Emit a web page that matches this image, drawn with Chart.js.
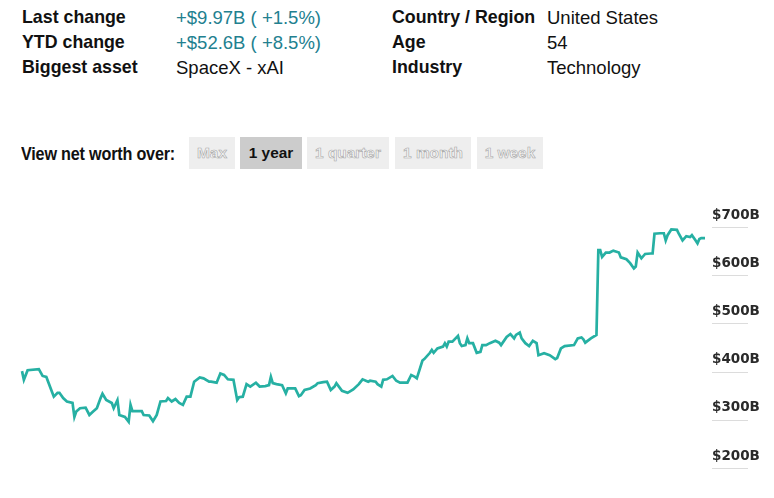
<!DOCTYPE html>
<html>
<head>
<meta charset="utf-8">
<script src="https://cdn.jsdelivr.net/npm/chart.js@4.4.1/dist/chart.umd.min.js"></script>
<style>
  body { margin: 0; width: 774px; height: 498px; background: #fff; position: relative; overflow: hidden;
         font-family: "Liberation Sans", Arial, sans-serif; color: #111; }
  .col { position: absolute; top: 5px; font-size: 18.5px; line-height: 25px; white-space: nowrap; }
  .lbl { font-weight: bold; font-size: 17.8px; }
  .up { color: #22808f; }
  .range { position: absolute; top: 137px; left: 0; height: 32px; width: 774px; }
  .range .title { position: absolute; left: 21px; top: 0; line-height: 32px; font-size: 16.2px; font-weight: bold;
                  transform: scaleY(1.15); letter-spacing: -0.2px; }
  .btn { position: absolute; top: 0; height: 32px; line-height: 32px; text-align: center; font-size: 15.4px;
         font-weight: bold; background: #eeeeee; color: #f6f6f6; -webkit-text-stroke: 0.6px #a8a8a8; }
  .btn.on { background: #cccccc; color: #111; -webkit-text-stroke: 0; }
  #wrap { position: absolute; left: 0; top: 190px; width: 774px; height: 308px; }
</style>
</head>
<body>
<div class="col lbl" style="left:22px">Last change<br>YTD change<br>Biggest asset</div>
<div class="col" style="left:176px"><span class="up">+$9.97B ( +1.5%)</span><br><span class="up">+$52.6B ( +8.5%)</span><br>SpaceX - xAI</div>
<div class="col lbl" style="left:392px">Country / Region<br>Age<br>Industry</div>
<div class="col" style="left:547px">United States<br>54<br>Technology</div>

<div class="range">
  <div class="title">View net worth over:</div>
  <div class="btn" style="left:189px;width:46px">Max</div>
  <div class="btn on" style="left:240px;width:62px">1 year</div>
  <div class="btn" style="left:307px;width:82px">1 quarter</div>
  <div class="btn" style="left:395px;width:76px">1 month</div>
  <div class="btn" style="left:477px;width:66px">1 week</div>
</div>

<div id="wrap"><canvas id="chart"></canvas></div>

<script>
// day of the year (0 = one year ago)
const days = [
  0, 1, 3, 9, 11, 13, 16, 17, 19, 20,
  22, 24, 27, 28, 29, 31, 34, 36, 38, 40,
  42, 43, 45, 48, 49, 51, 52, 55, 57, 58,
  59, 64, 65, 68, 70, 72, 74, 77, 78, 80,
  82, 84, 86, 88, 90, 92, 95, 97, 100, 101,
  104, 106, 108, 110, 113, 115, 116, 118, 120, 122,
  125, 127, 130, 132, 133, 134, 136, 139, 141, 142,
  146, 148, 149, 151, 154, 157, 158, 161, 163, 165,
  167, 168, 171, 174, 177, 180, 182, 185, 186, 189,
  190, 192, 193, 195, 198, 200, 202, 206, 208, 210,
  211, 214, 215, 218, 219, 220, 222, 225, 226, 227,
  228, 230, 233, 234, 235, 237, 238, 239, 241, 243,
  245, 246, 248, 250, 253, 255, 256, 259, 261, 263,
  264, 266, 267, 269, 271, 273, 275, 276, 279, 282,
  285, 286, 288, 290, 295, 297, 299, 300, 301, 304,
  307, 308, 309, 310, 312, 314, 316, 319, 320, 323,
  325, 327, 328, 329, 331, 333, 336, 337, 338, 341,
  343, 344, 345, 347, 350, 351, 353, 355, 357, 358,
  360, 361, 362, 363, 365
];

// net worth, billions of dollars
const worth = [
  401, 383, 403, 405, 391, 389, 358, 348, 356, 356,
  345, 338, 335, 306, 317, 324, 325, 310, 317, 324,
  345, 354, 341, 335, 324, 341, 310, 306, 296, 331,
  318, 318, 310, 309, 297, 310, 338, 339, 345, 338,
  343, 335, 331, 348, 348, 379, 388, 386, 379, 379,
  377, 396, 393, 384, 383, 341, 347, 348, 374, 369,
  377, 369, 370, 372, 389, 376, 374, 372, 355, 365,
  365, 349, 351, 362, 365, 372, 376, 378, 379, 362,
  369, 376, 360, 356, 363, 374, 384, 379, 381, 379,
  374, 369, 383, 384, 391, 381, 377, 377, 393, 389,
  386, 423, 426, 439, 445, 439, 448, 452, 459, 452,
  462, 462, 474, 459, 453, 455, 469, 459, 459, 439,
  441, 455, 455, 459, 464, 460, 455, 472, 478, 469,
  476, 481, 469, 459, 453, 464, 459, 434, 438, 434,
  426, 428, 448, 453, 455, 469, 471, 467, 460, 469,
  476, 652, 652, 638, 647, 647, 651, 647, 637, 633,
  625, 614, 618, 647, 635, 644, 645, 645, 686, 687,
  687, 672, 683, 695, 694, 686, 672, 681, 679, 683,
  672, 666, 675, 677, 677
];

const yTicks = [200, 300, 400, 500, 600, 700];

// short grey rule under each y label
const tickRules = {
  id: 'tickRules',
  afterDraw(chart) {
    const y = chart.scales.y;
    const ctx = chart.ctx;
    ctx.save();
    ctx.strokeStyle = '#dcdcdc';
    ctx.lineWidth = 1;
    y.ticks.forEach(t => {
      const py = Math.round(y.getPixelForValue(t.value)) + 0.5;
      ctx.beginPath();
      ctx.moveTo(y.left + 7, py);
      ctx.lineTo(y.left + 43, py);
      ctx.stroke();
    });
    ctx.restore();
  }
};

new Chart(document.getElementById('chart'), {
  type: 'line',
  data: {
    datasets: [{
      data: days.map((d, i) => ({ x: d, y: worth[i] })),
      borderColor: '#26b0a3',
      borderWidth: 2.7,
      pointRadius: 0,
      tension: 0,
      fill: false,
      clip: false
    }]
  },
  options: {
    responsive: true,
    maintainAspectRatio: false,
    animation: false,
    layout: { padding: { left: 22, top: 37, bottom: 30, right: 0 } },
    plugins: { legend: { display: false }, tooltip: { enabled: false } },
    scales: {
      x: { type: 'linear', min: 0, max: 365, display: false },
      y: {
        position: 'right',
        min: 200,
        max: 700,
        afterBuildTicks: s => { s.ticks = yTicks.map(v => ({ value: v })); },
        afterFit: s => { s.width = 69; },
        grid: { display: false, drawTicks: false },
        border: { display: false },
        ticks: {
          padding: 7,
          labelOffset: -12,
          color: '#2a2a2a',
          font: { family: 'DejaVu Sans', size: 13.5, weight: 'bold' },
          callback: v => '$' + v + 'B'
        }
      }
    }
  },
  plugins: [tickRules]
});
</script>
</body>
</html>
